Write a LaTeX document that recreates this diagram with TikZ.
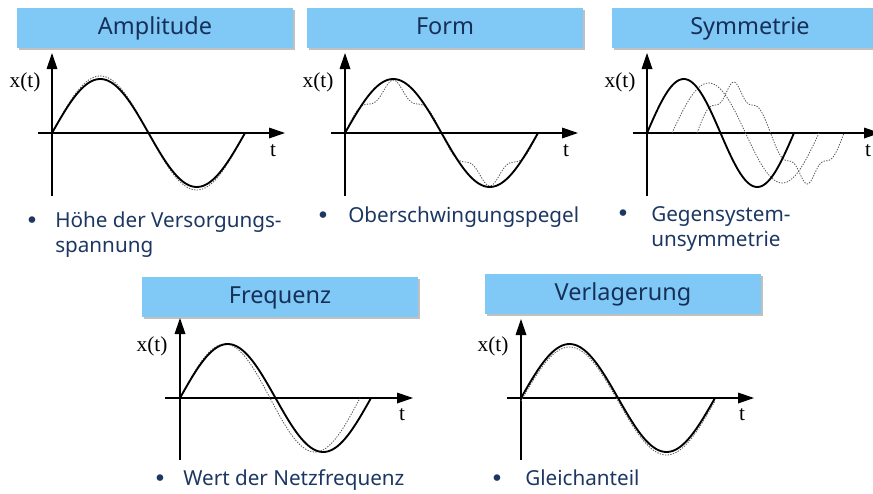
\documentclass[tikz,border=0pt]{standalone}
\usepackage{fontspec}
\setmainfont{Noto Sans}
\newfontfamily\plotserif{Liberation Serif}
\newfontfamily\dotfont{DejaVu Sans}
\usetikzlibrary{arrows.meta,shadows}
\definecolor{headfill}{RGB}{128,200,246}
\definecolor{headtext}{RGB}{22,48,88}
\definecolor{navytext}{RGB}{28,55,98}
\definecolor{dotgray}{RGB}{85,85,85}
\tikzset{
  headbox/.style={fill=headfill, minimum width=207pt, minimum height=30pt, inner sep=0pt,
    text height=10pt, text depth=0pt,
    drop shadow={shadow xshift=1.8pt, shadow yshift=-1.8pt, fill=black!55, opacity=.45},
    font=\fontsize{17.6}{20}\selectfont, text=headtext},
  plotaxis/.style={line width=0.9pt, -{Triangle[length=12pt,width=8pt]}},
  sigline/.style={line width=1.4pt, line join=round},
  sigdots/.style={line width=0.6pt, dotgray, dash pattern=on 1pt off 1pt},
  axislabel/.style={font=\plotserif\fontsize{16}{18}\selectfont, inner sep=0pt},
  itemdot/.style={anchor=base, inner sep=0pt, font=\dotfont\fontsize{17}{17}\selectfont, text=navytext},
  itemtext/.style={anchor=base west, inner sep=0pt, align=left,
    font=\fontsize{15.5}{18.75}\selectfont, text=navytext},
}
\begin{document}
\begin{tikzpicture}[x=0.75pt, y=-0.75pt]
  \useasboundingbox (0,0) rectangle (873,493);

  % Amplitude
  \node[headbox] (hAmp) at (155,28) {Amplitude};
  \begin{scope}[shift={(52,133)}]
    \coordinate (oAmp) at (0,0);
    \draw[plotaxis] (0,63) -- (0,-80);
    \draw[plotaxis] (-14,0) -- (233,0);
    \node[axislabel] (xAmp) at (-27,-51) {x(t)};
    \node[axislabel] (tAmp) at (221,18) {t};
    \draw[sigdots] plot[domain=0:193, samples=80] ({\x},{-57*sin(\x/193*360)});
    \draw[sigline] plot[domain=0:193, samples=80] ({\x},{-54*sin(\x/193*360)});
  \end{scope}
  \node[itemdot] (bAmp) at (32,228) {•};
  \node[itemtext] (iAmp) at (55,252) {Höhe der Versorgungs-\\spannung};

  % Form
  \node[headbox] (hForm) at (445,28) {Form};
  \begin{scope}[shift={(345,133)}]
    \coordinate (oForm) at (0,0);
    \draw[plotaxis] (0,63) -- (0,-80);
    \draw[plotaxis] (-14,0) -- (233,0);
    \node[axislabel] (xForm) at (-27,-51) {x(t)};
    \node[axislabel] (tForm) at (221,18) {t};
    \draw[sigdots] plot[domain=0:193, samples=160]
      ({\x},{-54*(0.84*sin(\x/193*360)+0.11*sin(5*\x/193*360)-0.03*sin(7*\x/193*360))});
    \draw[sigline] plot[domain=0:193, samples=80] ({\x},{-54*sin(\x/193*360)});
  \end{scope}
  \node[itemdot] (bForm) at (323,223) {•};
  \node[itemtext] (iForm) at (348,222) {Oberschwingungspegel};

  % Symmetrie
  \node[headbox] (hSym) at (750,28) {Symmetrie};
  \begin{scope}[shift={(647,133)}]
    \coordinate (oSym) at (0,0);
    \draw[plotaxis] (0,63) -- (0,-80);
    \draw[plotaxis] (-14,0) -- (233,0);
    \node[axislabel] (xSym) at (-27,-51) {x(t)};
    \node[axislabel] (tSym) at (221,18) {t};
    \draw[sigdots] plot[domain=25:172, samples=80] ({\x},{-50*sin((\x-25)/147*360)});
    \draw[sigdots] plot[domain=50:197, samples=160]
      ({\x},{-52*(0.84*sin((\x-50)/147*360)+0.11*sin(5*(\x-50)/147*360)-0.03*sin(7*(\x-50)/147*360))});
    \draw[sigline] plot[domain=0:147, samples=80] ({\x},{-54*sin(\x/147*360)});
  \end{scope}
  \node[itemdot] (bSym) at (623,221) {•};
  \node[itemtext] (iSym) at (651,246) {Gegensystem-\\unsymmetrie};

  % Frequenz
  \node[headbox] (hFreq) at (280,297) {Frequenz};
  \begin{scope}[shift={(180,398)}]
    \coordinate (oFreq) at (0,0);
    \draw[plotaxis] (0,62) -- (0,-80);
    \draw[plotaxis] (-15,0) -- (233,0);
    \node[axislabel] (xFreq) at (-28,-52) {x(t)};
    \node[axislabel] (tFreq) at (222,17) {t};
    \draw[sigdots] plot[domain=0:180, samples=80] ({\x},{-54*sin(\x/180*360)});
    \draw[sigline] plot[domain=0:191, samples=80] ({\x},{-54*sin(\x/191*360)});
  \end{scope}
  \node[itemdot] (bFreq) at (160,486) {•};
  \node[itemtext] (iFreq) at (183,485) {Wert der Netzfrequenz};

  % Verlagerung
  \node[headbox] (hVerl) at (623,294) {Verlagerung};
  \begin{scope}[shift={(521,398)}]
    \coordinate (oVerl) at (0,0);
    \draw[plotaxis] (0,62) -- (0,-79);
    \draw[plotaxis] (-14,0) -- (233,0);
    \node[axislabel] (xVerl) at (-28,-52) {x(t)};
    \node[axislabel] (tVerl) at (221,17) {t};
    \draw[sigdots] plot[domain=0:194, samples=80] ({\x},{3-54*sin(\x/194*360)});
    \draw[sigline] plot[domain=0:194, samples=80] ({\x},{-54*sin(\x/194*360)});
  \end{scope}
  \node[itemdot] (bVerl) at (497,486) {•};
  \node[itemtext] (iVerl) at (525,485) {Gleichanteil};
\end{tikzpicture}
\end{document}
